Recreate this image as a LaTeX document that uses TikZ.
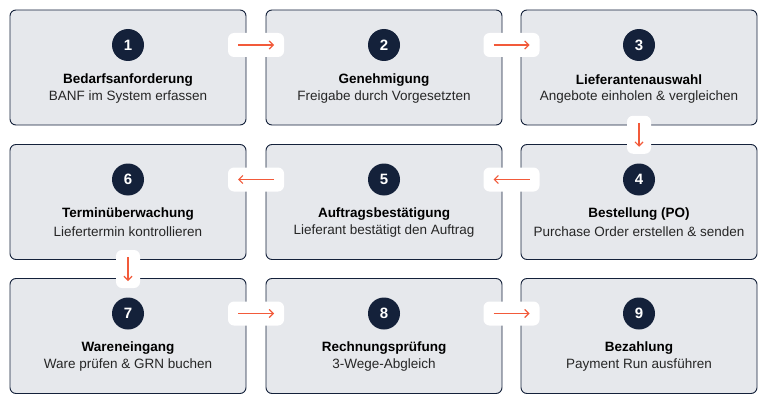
\documentclass[tikz,border=0pt]{standalone}
\usepackage{fontspec}
\setmainfont{Liberation Sans}
\usetikzlibrary{arrows.meta,calc}
\definecolor{boxfill}{HTML}{E6E8EC}
\definecolor{navy}{HTML}{14213A}
\definecolor{accent}{HTML}{F25A3A}
\tikzset{
  stepbox/.style={draw=navy, line width=0.9pt, fill=boxfill, rounded corners=6pt, minimum width=236pt, minimum height=115pt},
  num/.style={circle, fill=navy, text=white, minimum size=32pt, inner sep=0pt, font=\fontsize{15}{17}\selectfont\bfseries},
  title/.style={font=\fontsize{13.5}{15}\selectfont\bfseries, text=black},
  sub/.style={font=\fontsize{13.5}{15}\selectfont, text=black!85},
  pad/.style={fill=white, rounded corners=6pt, minimum width=56pt, minimum height=24pt},
  padv/.style={fill=white, rounded corners=6pt, minimum width=24pt, minimum height=38pt},
  flow/.style={draw=accent, line width=1.2pt, -{Straight Barb[length=4pt,width=8pt]}}
}
\begin{document}
\begin{tikzpicture}[x=1pt,y=-1pt]
\useasboundingbox (0,0) rectangle (768,404);
% steps
\foreach \n/\cx/\cy/\t/\s in {
  1/128/67.5/Bedarfsanforderung/BANF im System erfassen,
  2/384/67.5/Genehmigung/Freigabe durch Vorgesetzten,
  3/639/67.5/Lieferantenauswahl/Angebote einholen \& vergleichen,
  4/639/202/Bestellung (PO)/Purchase Order erstellen \& senden,
  5/384/202/Auftragsbestätigung/Lieferant bestätigt den Auftrag,
  6/128/202/Terminüberwachung/Liefertermin kontrollieren,
  7/128/336/Wareneingang/Ware prüfen \& GRN buchen,
  8/384/336/Rechnungsprüfung/3-Wege-Abgleich,
  9/639/336/Bezahlung/Payment Run ausführen}{
  \node[stepbox] (b\n) at (\cx,\cy) {};
  \node[num] (c\n) at (\cx,\cy-22.5) {\n};
  \node[title] (t\n) at (\cx,\cy+12.5) {\t};
  \node[sub] (s\n) at (\cx,\cy+29.5) {\s};
}
% connectors
\foreach \a/\b in {1/2,2/3,7/8,8/9}{
  \node[pad] (p\a) at ($(b\a.east)!0.5!(b\b.west)+(0,-22.5)$) {};
  \coordinate (l\a) at ([xshift=-18pt]p\a.center);
  \coordinate (r\a) at ([xshift=18pt]p\a.center);
  \draw[flow] (l\a) -- (r\a);
}
\foreach \a/\b in {4/5,5/6}{
  \node[pad] (p\a) at ($(b\a.west)!0.5!(b\b.east)+(0,-22.5)$) {};
  \coordinate (l\a) at ([xshift=18pt]p\a.center);
  \coordinate (r\a) at ([xshift=-18pt]p\a.center);
  \draw[flow] (l\a) -- (r\a);
}
\foreach \a/\b in {3/4,6/7}{
  \node[padv] (p\a) at ($(b\a.south)!0.5!(b\b.north)$) {};
  \coordinate (u\a) at ([yshift=12pt]p\a.center);
  \coordinate (d\a) at ([yshift=-12pt]p\a.center);
  \draw[flow] (u\a) -- (d\a);
}
\end{tikzpicture}
\end{document}
